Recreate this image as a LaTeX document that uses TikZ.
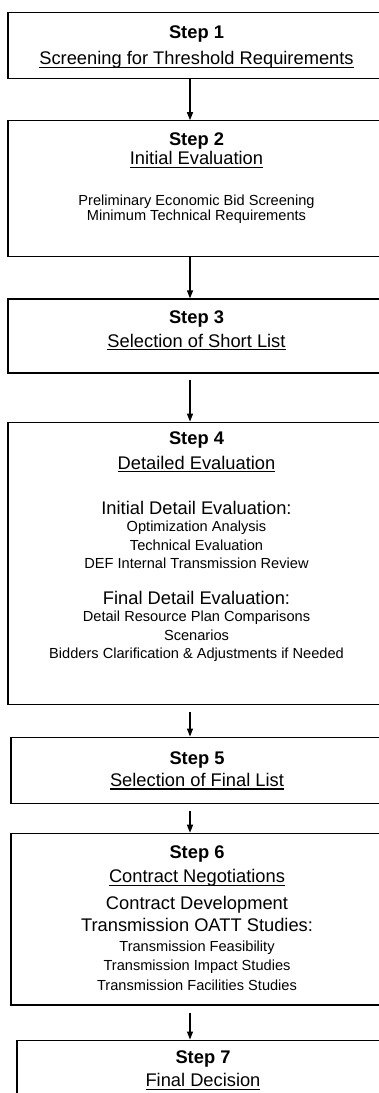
\documentclass[tikz,border=0pt]{standalone}
\usepackage{fontspec}
\setmainfont{Liberation Sans}
\usetikzlibrary{arrows.meta,positioning}

\newcommand{\smallsz}{\fontsize{14.6}{14}\selectfont}
\newcommand{\ulin}[1]{\leavevmode\setbox0=\hbox{#1}\rlap{\rule[-3.2pt]{\wd0}{1.3pt}}\box0}

\begin{document}
\begin{tikzpicture}[
  x=1pt, y=-1pt,
  box/.style={rectangle, draw, line width=1.2pt, inner sep=0pt, minimum width=377pt},
  txt/.style={align=center, inner sep=0pt, font={\fontsize{18.3}{14}\selectfont\lineskiplimit=-50pt}},
  arrow/.style={-{Triangle[length=8pt,width=6pt]}, line width=1.3pt}
]
  \useasboundingbox (0,0) rectangle (379,1093);
  \coordinate (ax) at (190,0);

  % frames
  \node[box, anchor=north, minimum height=66.3pt] (thr) at (196.5,11.7) {};
  \node[box, minimum height=136pt, below=41pt of thr] (ini) {};
  \node[box, minimum height=74pt, below=41pt of ini] (shl) {};
  \node[box, minimum height=282pt, below=48pt of shl] (det) {};
  \node[box, minimum width=372pt, minimum height=66.5pt, below=31.7pt of det, xshift=0.5pt] (fin) {};
  \node[box, minimum width=372pt, minimum height=171.6pt, below=28.5pt of fin] (con) {};
  \node[box, minimum width=372pt, minimum height=80pt, below=34pt of con, xshift=6pt] (dec) {};

  % texts
  \node[txt, below=13.5pt of thr.north] (thrT) {\textbf{Step 1}\\[12.5pt]\ulin{Screening for Threshold Requirements}};
  \node[txt, below=12.3pt of ini.north] (iniT) {\textbf{Step 2}\\[5.5pt]\ulin{Initial Evaluation}\\[27pt]
    {\smallsz Preliminary Economic Bid Screening}\\[1pt]{\smallsz Minimum Technical Requirements}};
  \node[txt, below=11.7pt of shl.north] (shlT) {\textbf{Step 3}\\[10pt]\ulin{Selection of Short List}};
  \node[txt, below=9.7pt of det.north] (detT) {\textbf{Step 4}\\[11pt]\ulin{Detailed Evaluation}\\[31pt]
    Initial Detail Evaluation:\\[3.5pt]{\smallsz Optimization Analysis}\\[4.5pt]{\smallsz Technical Evaluation}\\[4.5pt]
    {\smallsz DEF Internal Transmission Review}\\[21.5pt]
    Final Detail Evaluation:\\[3.5pt]{\smallsz Detail Resource Plan Comparisons}\\[4.5pt]{\smallsz Scenarios}\\[4.5pt]
    {\smallsz Bidders Clarification \& Adjustments if Needed}};
  \node[txt, below=14.6pt of fin.north] (finT) {\textbf{Step 5}\\[8.4pt]\ulin{Selection of Final List}};
  \node[txt, below=13pt of con.north] (conT) {\textbf{Step 6}\\[10pt]\ulin{Contract Negotiations}\\[13pt]
    Contract Development\\[8pt]Transmission OATT Studies:\\[5.5pt]{\smallsz Transmission Feasibility}\\[5.5pt]
    {\smallsz Transmission Impact Studies}\\[5.5pt]{\smallsz Transmission Facilities Studies}};
  \node[txt, below=11.1pt of dec.north] (decT) {\textbf{Step 7}\\[9.3pt]\ulin{Final Decision}};

  % arrows
  \draw[arrow] (thr.south -| ax) -- (ini.north -| ax);
  \draw[arrow] (ini.south -| ax) -- (shl.north -| ax);
  \draw[arrow, shorten <=6pt] (shl.south -| ax) -- (det.north -| ax);
  \draw[arrow, shorten <=7pt] (det.south -| ax) -- (fin.north -| ax);
  \draw[arrow, shorten <=7pt] (fin.south -| ax) -- (con.north -| ax);
  \draw[arrow, shorten <=7pt] (con.south -| ax) -- (dec.north -| ax);
\end{tikzpicture}
\end{document}
